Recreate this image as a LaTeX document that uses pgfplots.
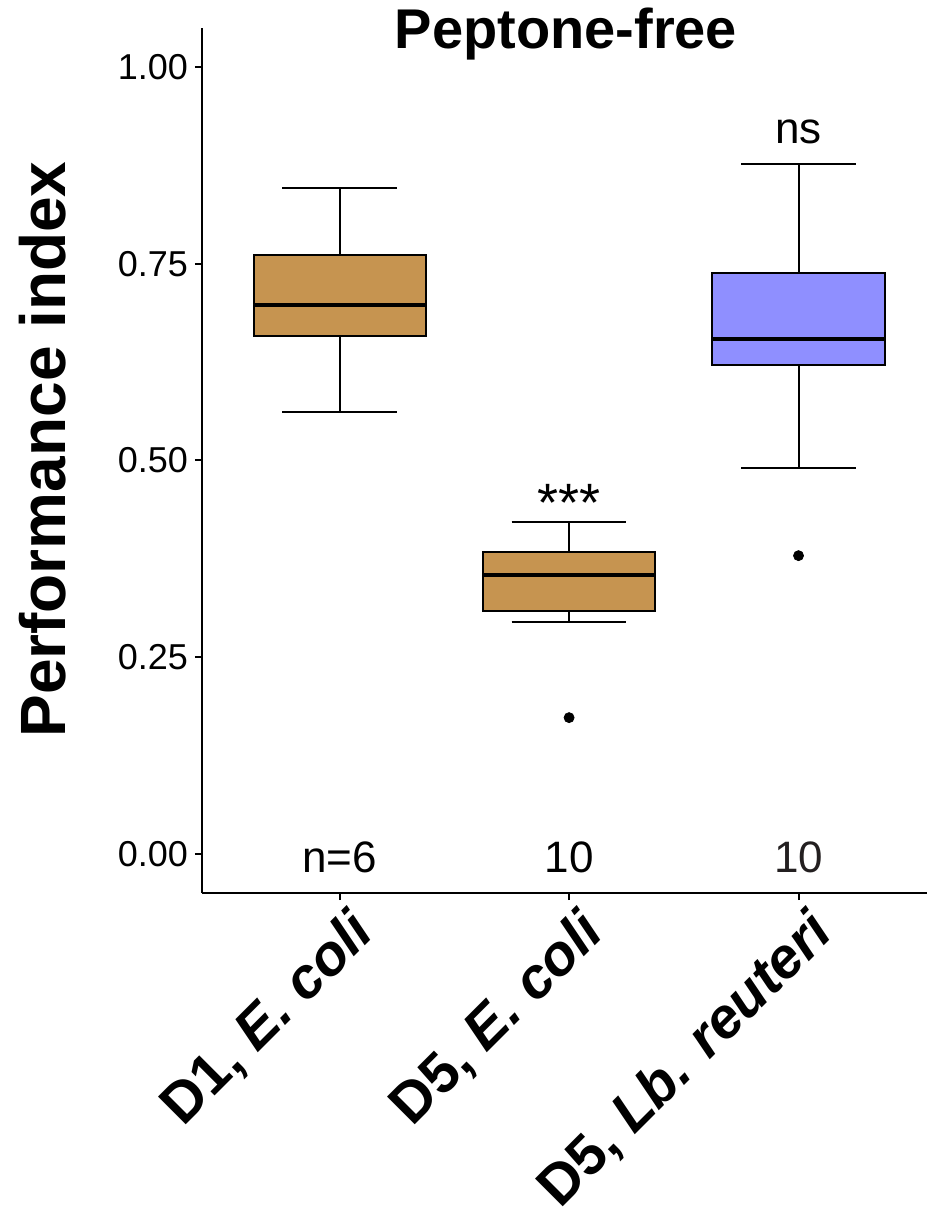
\documentclass[border=0pt]{standalone}
\usepackage{pgfplots}
\pgfplotsset{compat=1.18}
\usepgfplotslibrary{statistics}
\usetikzlibrary{calc}
\usepackage{fontspec}
\setmainfont{Liberation Sans}
\definecolor{Tan}{HTML}{C69450}
\definecolor{Periw}{HTML}{8F8FFF}
\definecolor{NearBlack}{HTML}{231F20}

\begin{document}
\begin{tikzpicture}
\begin{axis}[name=ax,scale only axis,width=362.5pt,height=432.5pt,
  xmin=0.4,xmax=3.56,ymin=-0.05,ymax=1.05,
  axis lines*=left,axis line style={-,line width=1pt},
  tick align=outside,major tick length=3.5pt,tick style={line width=1pt,black},
  xtick={1,2,3},ytick={0,0.25,0.5,0.75,1},
  xticklabels={{D1, \textit{E. coli}},{D5, \textit{E. coli}},{D5, \textit{Lb. reuteri}}},
  xticklabel style={xshift=4pt,yshift=0.5pt,rotate=45,anchor=north east,inner sep=2pt,
    font=\bfseries\fontsize{28.5}{28.5}\selectfont},
  yticklabel style={/pgf/number format/fixed,/pgf/number format/fixed zerofill,
    /pgf/number format/precision=2,font=\fontsize{18}{21}\selectfont},
  /pgf/number format/assume math mode=true,
  ylabel={Performance index},
  ylabel style={at={(axis description cs:-0.1876,0.5127)},anchor=base,
    font=\bfseries\fontsize{32}{32}\selectfont},
  title={Peptone-free},
  title style={at={(axis description cs:0.502,0.962)},anchor=base,
    font=\bfseries\fontsize{28}{28}\selectfont},
  boxplot/draw direction=y,
  boxplot/box extend=0.75,boxplot/whisker extend=0.5,
  boxplot/every box/.style={line width=1pt},
  boxplot/every whisker/.style={line width=1pt},
  boxplot/every median/.style={line width=2pt},
  clip=false]
\addplot[draw=black,fill=Tan,mark=*,mark size=2.5pt,mark options={fill=black,draw=black},
  boxplot prepared={draw position=1,median=0.698,upper quartile=0.761,lower quartile=0.658,
  upper whisker=0.846,lower whisker=0.562}] coordinates {};
\addplot[draw=black,fill=Tan,mark=*,mark size=2.5pt,mark options={fill=black,draw=black},
  boxplot prepared={draw position=2,median=0.354,upper quartile=0.384,lower quartile=0.308,
  upper whisker=0.422,lower whisker=0.295}] coordinates {(0,0.173)};
\addplot[draw=black,fill=Periw,mark=*,mark size=2.5pt,mark options={fill=black,draw=black},
  boxplot prepared={draw position=3,median=0.655,upper quartile=0.738,lower quartile=0.621,
  upper whisker=0.877,lower whisker=0.491}] coordinates {(0,0.379)};
\node[anchor=base,font=\fontsize{27}{27}\selectfont] at (axis cs:2,0.423) {***};
\node[anchor=base,font=\fontsize{22}{22}\selectfont] at (axis cs:3,0.903) {ns};
\node[anchor=base,font=\fontsize{22}{22}\selectfont] at (axis cs:1,-0.024) {n=6};
\node[anchor=base,font=\fontsize{22}{22}\selectfont] at (axis cs:2,-0.024) {10};
\node[anchor=base,font=\fontsize{22}{22}\selectfont,text=NearBlack] at (axis cs:3,-0.024) {10};
\end{axis}
\pgfresetboundingbox
\path[use as bounding box] ($(ax.south west)+(-101pt,-158pt)$) rectangle ($(ax.north east)+(0pt,14pt)$);
\end{tikzpicture}
\end{document}
